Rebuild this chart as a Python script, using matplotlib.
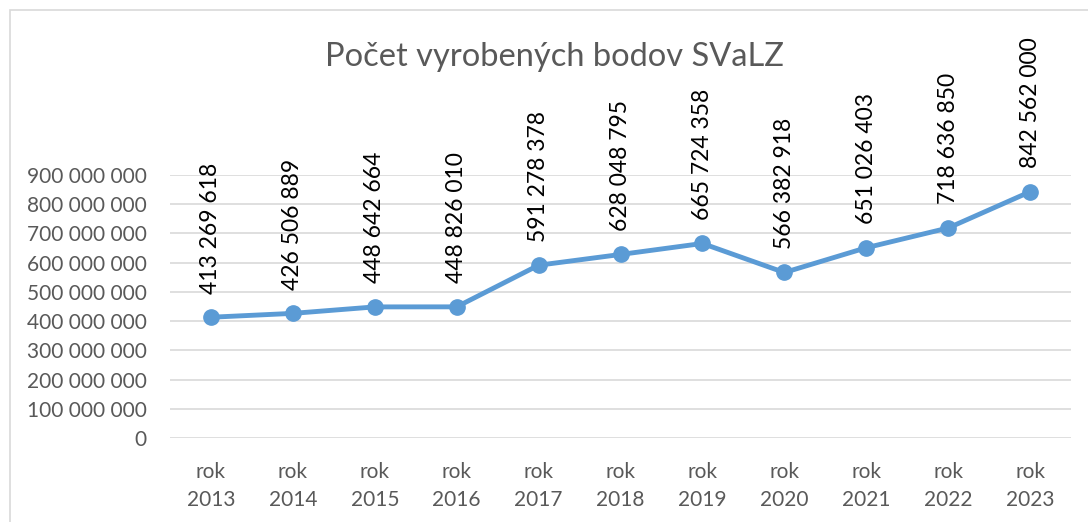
import matplotlib.pyplot as plt
from matplotlib.ticker import FuncFormatter
from matplotlib.patches import Rectangle

roky = ["rok\n2013", "rok\n2014", "rok\n2015", "rok\n2016", "rok\n2017", "rok\n2018",
        "rok\n2019", "rok\n2020", "rok\n2021", "rok\n2022", "rok\n2023"]
body = [413269618, 426506889, 448642664, 448826010, 591278378, 628048795,
        665724358, 566382918, 651026403, 718636850, 842562000]

def medzery(v, pos=None):
    return f"{int(v):,}".replace(",", " ")

plt.rcParams['font.family'] = ['Lato', 'DejaVu Sans']

fig = plt.figure(figsize=(10.88, 5.22), dpi=100)
ax = fig.add_axes([170 / 1088, 1 - 438 / 522, 901 / 1088, 263 / 522])

x = list(range(len(body)))
ax.plot(x, body, color='#5B9BD5', linewidth=3.5, marker='o', markersize=11, zorder=3)

for xi, v in zip(x, body):
    ax.annotate(medzery(v), (xi, v), xytext=(0, 17), textcoords='offset points',
                rotation=90, ha='center', va='bottom', fontsize=16.5, color='black')

ax.set_xlim(-0.5, len(body) - 0.5)
ax.set_ylim(0, 900000000)
ax.set_yticks(range(0, 900000001, 100000000))
ax.yaxis.set_major_formatter(FuncFormatter(medzery))
ax.set_xticks(x)
ax.set_xticklabels(roky, linespacing=1.5)
ax.tick_params(axis='both', length=0, labelsize=15, labelcolor='#595959')
ax.tick_params(axis='x', pad=17)
ax.tick_params(axis='y', pad=17)
ax.grid(axis='y', color='#D9D9D9', linewidth=1.2)
ax.set_axisbelow(True)
for s in ax.spines.values():
    s.set_visible(False)

fig.text(554 / 1088, 1 - 57 / 522, "Počet vyrobených bodov SVaLZ", ha='center', va='center',
         fontsize=23.5, color='#595959')

fig.patches.append(Rectangle((10 / 1088, -0.1), 1.2, 1 - 10 / 522 + 0.1, transform=fig.transFigure,
                             fill=False, edgecolor='#D9D9D9', linewidth=1.2))

fig.savefig("out.png", dpi=100)
